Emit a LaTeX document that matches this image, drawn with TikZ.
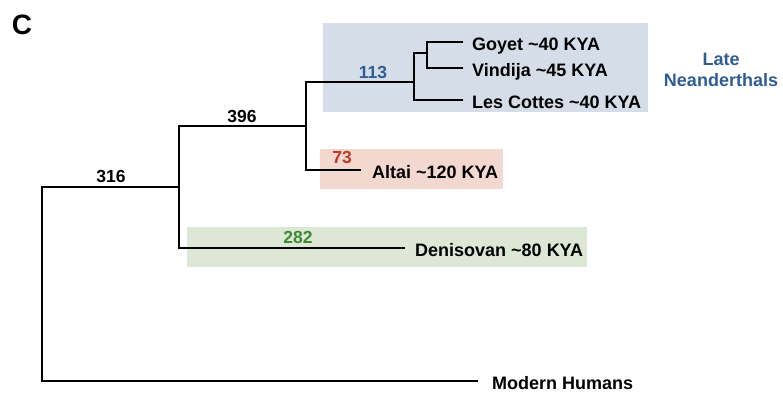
\documentclass[tikz,border=0pt]{standalone}
\usepackage{fontspec}
\setmainfont{Liberation Sans}
\definecolor{bluebox}{HTML}{D5DEE8}
\definecolor{bluetxt}{HTML}{2F5D93}
\definecolor{redbox}{HTML}{F3D8D0}
\definecolor{redtxt}{HTML}{C03A2B}
\definecolor{greenbox}{HTML}{DCE7D5}
\definecolor{greentxt}{HTML}{3E8A35}
\tikzset{
  branch/.style={line width=2.9pt, line cap=butt, line join=miter},
  leaf/.style={anchor=west, inner xsep=9pt, inner ysep=0pt, font=\bfseries\fontsize{18}{21}\selectfont, text height=17pt, text depth=0pt},
  num/.style={anchor=center, inner sep=0pt, font=\bfseries\fontsize{17.5}{20}\selectfont, text height=12.5pt, text depth=0pt}
}
\begin{document}
\begin{tikzpicture}[x=1pt,y=-1pt]
\useasboundingbox (0,0) rectangle (783,396);
% shaded boxes
\fill[bluebox] (323,23) rectangle (648,112);
\fill[redbox] (320,149) rectangle (503,189);
\fill[greenbox] (187,227) rectangle (587,267);
% panel letter
\node[inner sep=0pt, font=\bfseries\fontsize{28}{30}\selectfont, text height=20pt, text depth=0pt] (C) at (22,25) {C};
% leaves
\node[leaf] (goyet) at (463,42) {Goyet \char`~40 KYA};
\node[leaf] (vindija) at (463,68) {Vindija \char`~45 KYA};
\node[leaf] (cottes) at (463,100) {Les Cottes \char`~40 KYA};
\node[leaf, inner xsep=11pt] (altai) at (361,170) {Altai \char`~120 KYA};
\node[leaf, inner xsep=10pt] (deni) at (405,248) {Denisovan \char`~80 KYA};
\node[leaf, inner xsep=14pt] (modern) at (478,381) {Modern Humans};
% internal points
\coordinate (r) at (42,187);
\coordinate (n396) at (179,187);
\coordinate (n306) at (306,126);
\coordinate (n414) at (414,82);
\coordinate (n427) at (427,53);
% branches
\draw[branch] (n396) -- (r) |- (modern.west);
\draw[branch] (n306) -- (n306 -| n396) |- (deni.west);
\draw[branch] (n414) -- (n414 -| n306) |- (altai.west);
\draw[branch] (n427) -- (n427 -| n414) |- (cottes.west);
\draw[branch] (goyet.west) -| (n427) |- (vindija.west);
% branch labels
\node[num] (l316) at (111,176.5) {316};
\node[num] (l396) at (242,116) {396};
\node[num, text=bluetxt] (l113) at (373,72) {113};
\node[num, text=redtxt] (l73) at (342,157.5) {73};
\node[num, text=greentxt] (l282) at (298,237.5) {282};
% group label
\node[align=center, text=bluetxt, inner sep=0pt, font=\bfseries\fontsize{18}{21}\selectfont] (late) at (721,69.5) {Late\\Neanderthals};
\end{tikzpicture}
\end{document}
